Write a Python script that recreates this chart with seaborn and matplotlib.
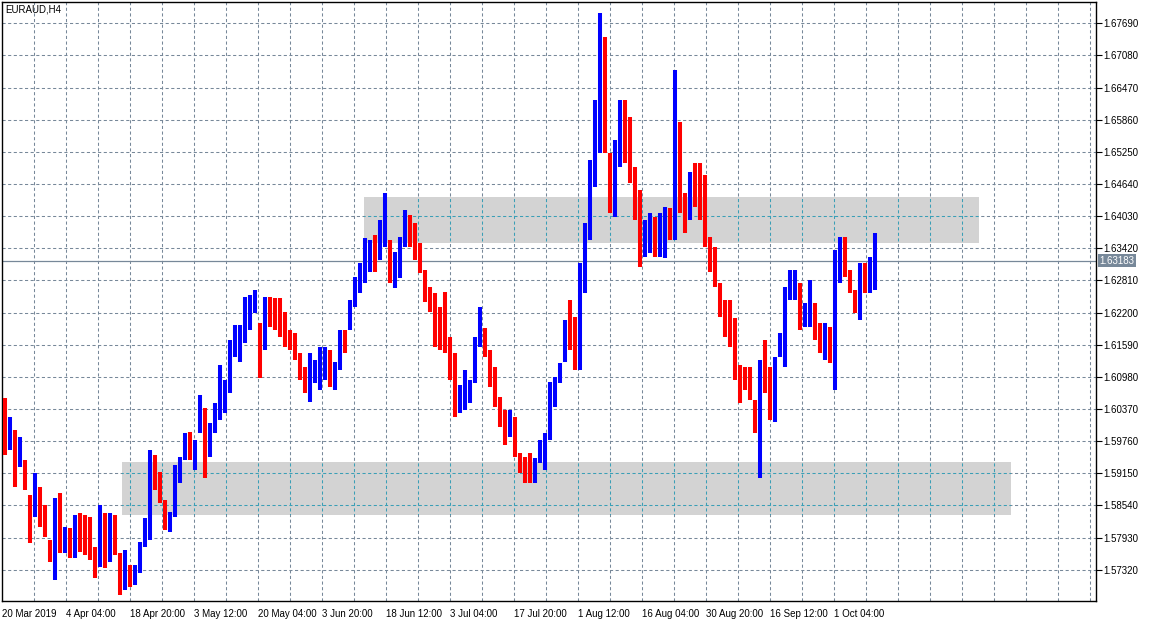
import matplotlib
matplotlib.use("Agg")
import matplotlib.pyplot as plt
import matplotlib.transforms as mtransforms
from matplotlib.patches import Rectangle
import pandas as pd
import seaborn as sns

# Chart data (EURAUD H4; every value below
# stands for a block of 5 consecutive H4 bars)
title_text = "EURAUD,H4"
bars_per_block = 5

highs = [1.6058, 1.6022, 1.5997, 1.5984, 1.5940, 1.5874, 1.5916, 1.5889, 1.5855, 1.5788,
         1.5868, 1.5878, 1.5813, 1.5811, 1.5836, 1.5840, 1.5836, 1.5832, 1.5775, 1.5855,
         1.5840, 1.5840, 1.5836, 1.5764, 1.5769, 1.5741, 1.5741, 1.5785, 1.5830, 1.5959,
         1.5950, 1.5917, 1.5864, 1.5842, 1.5931, 1.5946, 1.5991, 1.5993, 1.5978, 1.6064,
         1.6039, 1.6010, 1.6048, 1.6121, 1.6092, 1.6168, 1.6196, 1.6196, 1.6250, 1.6253,
         1.6263, 1.6200, 1.6250, 1.6250, 1.6248, 1.6248, 1.6221, 1.6187, 1.6181, 1.6143,
         1.6117, 1.6143, 1.6130, 1.6155, 1.6155, 1.6149, 1.6126, 1.6187, 1.6187, 1.6244,
         1.6288, 1.6314, 1.6362, 1.6358, 1.6367, 1.6396, 1.6447, 1.6358, 1.6335, 1.6363,
         1.6415, 1.6405, 1.6390, 1.6352, 1.6301, 1.6269, 1.6257, 1.6231, 1.6259, 1.6174,
         1.6143, 1.6083, 1.6111, 1.6092, 1.6174, 1.6231, 1.6191, 1.6149, 1.6117, 1.6060,
         1.6035, 1.6035, 1.6022, 1.5953, 1.5946, 1.5953, 1.5944, 1.5978, 1.5991, 1.6088,
         1.6098, 1.6124, 1.6206, 1.6244, 1.6212, 1.6314, 1.6390, 1.6510, 1.6623, 1.6789,
         1.6743, 1.6523, 1.6548, 1.6623, 1.6623, 1.6591, 1.6496, 1.6453, 1.6396, 1.6409,
         1.6401, 1.6409, 1.6420, 1.6418, 1.6680, 1.6582, 1.6447, 1.6487, 1.6504, 1.6504,
         1.6481, 1.6363, 1.6344, 1.6276, 1.6244, 1.6244, 1.6210, 1.6121, 1.6117, 1.6117,
         1.6054, 1.6130, 1.6168, 1.6117, 1.6136, 1.6181, 1.6269, 1.6301, 1.6301, 1.6276,
         1.6238, 1.6282, 1.6238, 1.6200, 1.6200, 1.6193, 1.6339, 1.6363, 1.6363, 1.6301,
         1.6263, 1.6314, 1.6314, 1.6326, 1.6371]

lows = [1.5950, 1.5959, 1.5889, 1.5927, 1.5883, 1.5783, 1.5832, 1.5813, 1.5794, 1.5747,
        1.5712, 1.5764, 1.5764, 1.5754, 1.5754, 1.5766, 1.5760, 1.5750, 1.5716, 1.5737,
        1.5735, 1.5747, 1.5760, 1.5684, 1.5693, 1.5699, 1.5703, 1.5726, 1.5775, 1.5788,
        1.5883, 1.5859, 1.5807, 1.5804, 1.5832, 1.5897, 1.5940, 1.5940, 1.5921, 1.5991,
        1.5906, 1.5946, 1.5991, 1.6016, 1.6029, 1.6067, 1.6136, 1.6126, 1.6162, 1.6187,
        1.6219, 1.6096, 1.6149, 1.6193, 1.6187, 1.6174, 1.6155, 1.6149, 1.6130, 1.6092,
        1.6067, 1.6050, 1.6086, 1.6073, 1.6092, 1.6079, 1.6073, 1.6111, 1.6143, 1.6187,
        1.6231, 1.6257, 1.6276, 1.6297, 1.6297, 1.6320, 1.6344, 1.6276, 1.6267, 1.6286,
        1.6344, 1.6344, 1.6320, 1.6295, 1.6240, 1.6221, 1.6155, 1.6149, 1.6143, 1.6092,
        1.6022, 1.6029, 1.6035, 1.6048, 1.6086, 1.6155, 1.6136, 1.6079, 1.6041, 1.6003,
        1.5969, 1.5984, 1.5946, 1.5916, 1.5897, 1.5897, 1.5897, 1.5935, 1.5921, 1.5978,
        1.6041, 1.6086, 1.6126, 1.6149, 1.6111, 1.6111, 1.6257, 1.6358, 1.6458, 1.6523,
        1.6523, 1.6409, 1.6401, 1.6496, 1.6504, 1.6466, 1.6396, 1.6307, 1.6326, 1.6333,
        1.6326, 1.6326, 1.6324, 1.6358, 1.6358, 1.6409, 1.6371, 1.6396, 1.6420, 1.6396,
        1.6344, 1.6297, 1.6269, 1.6212, 1.6174, 1.6155, 1.6092, 1.6048, 1.6073, 1.6054,
        1.5991, 1.5906, 1.6067, 1.6016, 1.6012, 1.6136, 1.6117, 1.6244, 1.6244, 1.6187,
        1.6193, 1.6193, 1.6168, 1.6143, 1.6130, 1.6124, 1.6073, 1.6276, 1.6288, 1.6257,
        1.6219, 1.6206, 1.6257, 1.6257, 1.6263]

closes = [1.5969, 1.5997, 1.5921, 1.5950, 1.5893, 1.5807, 1.5864, 1.5836, 1.5807, 1.5760,
          1.5836, 1.5788, 1.5798, 1.5779, 1.5817, 1.5807, 1.5788, 1.5779, 1.5750, 1.5836,
          1.5779, 1.5788, 1.5773, 1.5712, 1.5741, 1.5722, 1.5731, 1.5773, 1.5817, 1.5931,
          1.5912, 1.5874, 1.5826, 1.5836, 1.5912, 1.5931, 1.5969, 1.5959, 1.5969, 1.6016,
          1.5969, 1.5997, 1.6035, 1.6054, 1.6064, 1.6158, 1.6158, 1.6177, 1.6215, 1.6234,
          1.6244, 1.6149, 1.6225, 1.6215, 1.6206, 1.6196, 1.6168, 1.6158, 1.6140, 1.6111,
          1.6096, 1.6102, 1.6102, 1.6111, 1.6111, 1.6102, 1.6111, 1.6168, 1.6158, 1.6234,
          1.6272, 1.6291, 1.6310, 1.6329, 1.6316, 1.6377, 1.6386, 1.6310, 1.6316, 1.6316,
          1.6392, 1.6367, 1.6339, 1.6305, 1.6253, 1.6238, 1.6215, 1.6187, 1.6168, 1.6121,
          1.6054, 1.6064, 1.6064, 1.6083, 1.6158, 1.6187, 1.6149, 1.6102, 1.6054, 1.6016,
          1.5997, 1.6007, 1.5959, 1.5931, 1.5921, 1.5912, 1.5921, 1.5959, 1.5978, 1.6064,
          1.6092, 1.6121, 1.6187, 1.6177, 1.6130, 1.6291, 1.6358, 1.6491, 1.6510, 1.6699,
          1.6538, 1.6434, 1.6529, 1.6604, 1.6548, 1.6481, 1.6424, 1.6348, 1.6367, 1.6367,
          1.6358, 1.6358, 1.6405, 1.6377, 1.6576, 1.6434, 1.6415, 1.6453, 1.6443, 1.6434,
          1.6367, 1.6329, 1.6282, 1.6225, 1.6215, 1.6206, 1.6111, 1.6102, 1.6092, 1.6064,
          1.6007, 1.6121, 1.6083, 1.6035, 1.6121, 1.6158, 1.6244, 1.6263, 1.6263, 1.6206,
          1.6206, 1.6225, 1.6177, 1.6168, 1.6177, 1.6140, 1.6301, 1.6339, 1.6301, 1.6263,
          1.6234, 1.6291, 1.6282, 1.6291, 1.63183]

first_open = 1.6020
last_price = 1.63183

# Time axis labels, one every 64 H4 bars
time_labels = ["20 Mar 2019", "4 Apr 04:00", "18 Apr 20:00", "3 May 12:00",
               "20 May 04:00", "3 Jun 20:00", "18 Jun 12:00", "3 Jul 04:00",
               "17 Jul 20:00", "1 Aug 12:00", "16 Aug 04:00", "30 Aug 20:00",
               "16 Sep 12:00", "1 Oct 04:00"]
label_every = 64
grid_every = 32
visible_bars = 1094

price_ticks = [1.57320, 1.57930, 1.58540, 1.59150, 1.59760, 1.60370, 1.60980,
               1.61590, 1.62200, 1.62810, 1.63420, 1.64030, 1.64640, 1.65250,
               1.65860, 1.66470, 1.67080, 1.67690]
price_min, price_max = 1.56726, 1.68094

# Support / resistance zones: (first bar, last bar, low price, high price)
zones = [(362, 977, 1.6352, 1.6440),
         (120, 1009, 1.5836, 1.5936)]

# Build a DataFrame
df = pd.DataFrame({"high": highs, "low": lows, "close": closes})
df["open"] = df["close"].shift(1).fillna(first_open)
df["bar"] = df.index * bars_per_block + bars_per_block / 2
df["color"] = ["#0000ff" if c >= o else "#ff0000" for c, o in zip(df["close"], df["open"])]

sns.set_style("white")
plt.rcParams["font.family"] = ["Liberation Sans", "DejaVu Sans"]

fig = plt.figure(figsize=(11.49, 6.22), dpi=100)
ax = fig.add_axes([2 / 1149, 21 / 622, 1094 / 1149, 599 / 622])
ax.set_xlim(0, visible_bars)
ax.set_ylim(price_min, price_max)

grid_color = "#778899"
zone_grid_color = "#3a9fb6"
dash = (0, (3, 2.4))

# Zones (behind the bars)
zone_patches = []
for x0, x1, y0, y1 in zones:
    rect = Rectangle((x0, y0), x1 - x0, y1 - y0, facecolor="#d3d3d3",
                     edgecolor="none", zorder=1)
    ax.add_patch(rect)
    zone_patches.append(rect)

# Dashed grid, drawn again in a teal tint where it crosses the zones
grid_x = list(range(grid_every, visible_bars, grid_every))
for color, z, clip in [(grid_color, 0.5, None)] + [(zone_grid_color, 1.5, p) for p in zone_patches]:
    lines = []
    for xv in grid_x:
        lines.append(ax.axvline(xv, color=color, lw=0.75, ls=dash, zorder=z))
    for yv in price_ticks:
        lines.append(ax.axhline(yv, color=color, lw=0.75, ls=dash, zorder=z))
    if clip is not None:
        for ln in lines:
            ln.set_clip_path(clip)

# Current price line
ax.axhline(last_price, color=grid_color, lw=0.9, zorder=2)

# Price bars
ax.vlines(df["bar"], df["low"], df["high"], colors=df["color"], linewidth=2.9, zorder=3)

# Axes and ticks
for side in ["left", "right", "top", "bottom"]:
    ax.spines[side].set_color("black")
    ax.spines[side].set_linewidth(1.0)

ax.set_xticks([i * label_every for i in range(len(time_labels))])
ax.set_xticklabels(time_labels, ha="left")
ax.yaxis.tick_right()
ax.set_yticks(price_ticks)
ax.set_yticklabels([f"{p:.5f}" for p in price_ticks])
ax.tick_params(axis="both", direction="out", length=4, width=0.8, colors="black",
               labelsize=7, pad=1.5)
ax.tick_params(axis="x", pad=2)
ax.grid(False)

# Price tag on the right axis
tag_tf = mtransforms.blended_transform_factory(ax.transAxes, ax.transData)
ax.text(1.003, last_price, f"{last_price:.5f}", transform=tag_tf, ha="left", va="center",
        fontsize=7, color="white", zorder=5, clip_on=False,
        bbox=dict(boxstyle="square,pad=0.15", facecolor=grid_color, edgecolor="none"))

ax.text(0.003, 0.995, title_text, transform=ax.transAxes, ha="left", va="top",
        fontsize=7, color="black")

fig.savefig("out.png", dpi=100)
